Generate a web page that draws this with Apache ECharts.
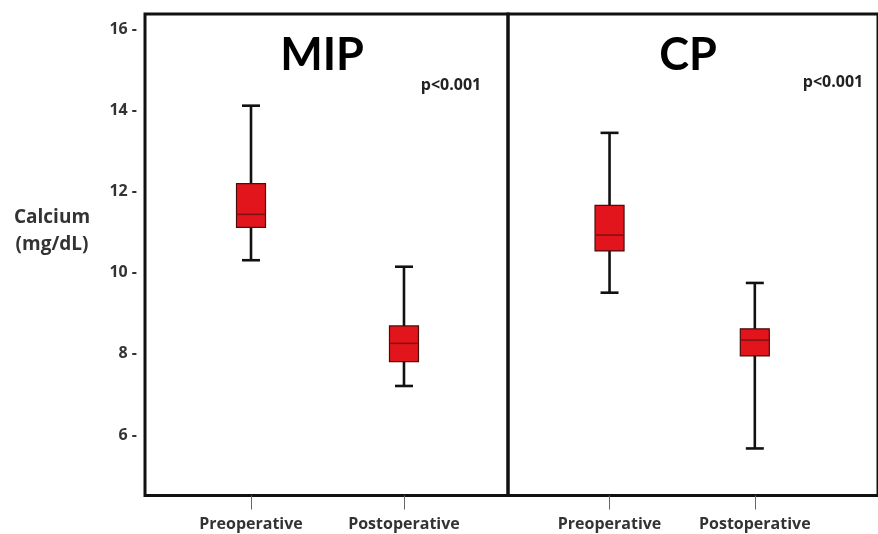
<!DOCTYPE html>
<html>
<head>
<meta charset="utf-8">
<script src="https://cdn.jsdelivr.net/npm/echarts@6/dist/echarts.min.js"></script>
<style>
  html, body { margin: 0; padding: 0; background: #fff; }
  #chart { width: 878px; height: 534px; }
</style>
</head>
<body>
<div id="chart"></div>
<script>
// ---- data ----
const categories = ['Preoperative', 'Postoperative'];
const panelTitles = ['MIP', 'CP'];
const pValues = ['p<0.001', 'p<0.001'];
// [min, Q1, median, Q3, max] in mg/dL
const mipStats = [
  [10.31, 11.12, 11.44, 12.20, 14.12],
  [7.21, 7.81, 8.26, 8.69, 10.15]
];
const cpStats = [
  [9.51, 10.54, 10.93, 11.66, 13.45],
  [5.67, 7.95, 8.34, 8.62, 9.75]
];
const yTicks = [6, 8, 10, 12, 14, 16];
const yAxisName = 'Calcium\n(mg/dL)';

// ---- chart ----
const FONT = '"Open Sans", "DejaVu Sans", sans-serif';
const TITLE_FONT = 'Lato, "DejaVu Sans", sans-serif';
const chart = echarts.init(document.getElementById('chart'), null, { renderer: 'canvas' });

function renderBox(params, api) {
  const x = api.value(0);
  const pMin = api.coord([x, api.value(1)]);
  const yQ1 = api.coord([x, api.value(2)])[1];
  const yMed = api.coord([x, api.value(3)])[1];
  const yQ3 = api.coord([x, api.value(4)])[1];
  const yMax = api.coord([x, api.value(5)])[1];
  const cx = pMin[0], yMin = pMin[1];
  const bw = 29, cw = 18;
  const wStyle = { stroke: '#111', lineWidth: 2.6 };
  return {
    type: 'group',
    children: [
      { type: 'line', shape: { x1: cx, y1: yMax, x2: cx, y2: yMin }, style: wStyle },
      { type: 'line', shape: { x1: cx - cw / 2, y1: yMax, x2: cx + cw / 2, y2: yMax }, style: wStyle },
      { type: 'line', shape: { x1: cx - cw / 2, y1: yMin, x2: cx + cw / 2, y2: yMin }, style: wStyle },
      { type: 'rect', shape: { x: cx - bw / 2, y: yQ3, width: bw, height: yQ1 - yQ3 },
        style: { fill: '#e3151c', stroke: '#4a0c0c', lineWidth: 1.2 } },
      { type: 'line', shape: { x1: cx - bw / 2, y1: yMed, x2: cx + bw / 2, y2: yMed },
        style: { stroke: '#7e0f12', lineWidth: 1.5 } }
    ]
  };
}

const Y_MIN = 4.51, Y_MAX = 16.38;
const gridCommon = { top: 14, bottom: 38.5, show: true, borderColor: '#111', borderWidth: 3, backgroundColor: 'transparent' };

function xAxisFor(gridIndex, min, max) {
  return {
    type: 'value', gridIndex, min, max,
    axisLine: { show: false },
    splitLine: { show: false },
    axisTick: { show: true, customValues: [0, 1], length: 14, lineStyle: { color: '#666', width: 1 } },
    axisLabel: {
      show: true, customValues: [0, 1], margin: 21,
      formatter: v => categories[Math.round(v)] || '',
      fontFamily: FONT, fontWeight: 'bold', fontSize: 16, color: '#333'
    }
  };
}

const option = {
  backgroundColor: '#fff',
  animation: false,
  grid: [
    Object.assign({ left: 145, width: 363 }, gridCommon),
    Object.assign({ left: 508, width: 390 }, gridCommon)
  ],
  xAxis: [
    xAxisFor(0, -0.693, 1.680),
    xAxisFor(1, -0.699, 1.848)
  ],
  yAxis: [
    {
      type: 'value', gridIndex: 0, min: Y_MIN, max: Y_MAX,
      axisLine: { show: false }, axisTick: { show: false }, splitLine: { show: false },
      axisLabel: {
        customValues: yTicks, margin: 8,
        formatter: v => v + ' -',
        fontFamily: FONT, fontWeight: 'bold', fontSize: 16, color: '#333'
      }
    },
    {
      type: 'value', gridIndex: 1, min: Y_MIN, max: Y_MAX,
      axisLine: { show: false }, axisTick: { show: false }, splitLine: { show: false },
      axisLabel: { show: false }
    }
  ],
  series: [
    {
      type: 'custom', name: panelTitles[0], xAxisIndex: 0, yAxisIndex: 0,
      renderItem: renderBox, encode: { x: 0, y: [1, 2, 3, 4, 5] },
      data: mipStats.map((s, i) => [i].concat(s))
    },
    {
      type: 'custom', name: panelTitles[1], xAxisIndex: 1, yAxisIndex: 1,
      renderItem: renderBox, encode: { x: 0, y: [1, 2, 3, 4, 5] },
      data: cpStats.map((s, i) => [i].concat(s))
    }
  ],
  graphic: [
    { type: 'text', x: 52, y: 231, style: { text: yAxisName, fontFamily: FONT, fontWeight: 'bold', fontSize: 19, lineHeight: 27, fill: '#333', align: 'center', verticalAlign: 'middle' } },
    { type: 'text', x: 322, y: 55, style: { text: panelTitles[0], fontFamily: TITLE_FONT, fontWeight: 'bold', fontSize: 45, fill: '#000', align: 'center', verticalAlign: 'middle' } },
    { type: 'text', x: 688, y: 55, style: { text: panelTitles[1], fontFamily: TITLE_FONT, fontWeight: 'bold', fontSize: 45, fill: '#000', align: 'center', verticalAlign: 'middle' } },
    { type: 'text', x: 451, y: 85, style: { text: pValues[0], fontFamily: FONT, fontWeight: 'bold', fontSize: 16, fill: '#222', align: 'center', verticalAlign: 'middle' } },
    { type: 'text', x: 833, y: 82, style: { text: pValues[1], fontFamily: FONT, fontWeight: 'bold', fontSize: 16, fill: '#222', align: 'center', verticalAlign: 'middle' } }
  ]
};
chart.setOption(option);
</script>
</body>
</html>
